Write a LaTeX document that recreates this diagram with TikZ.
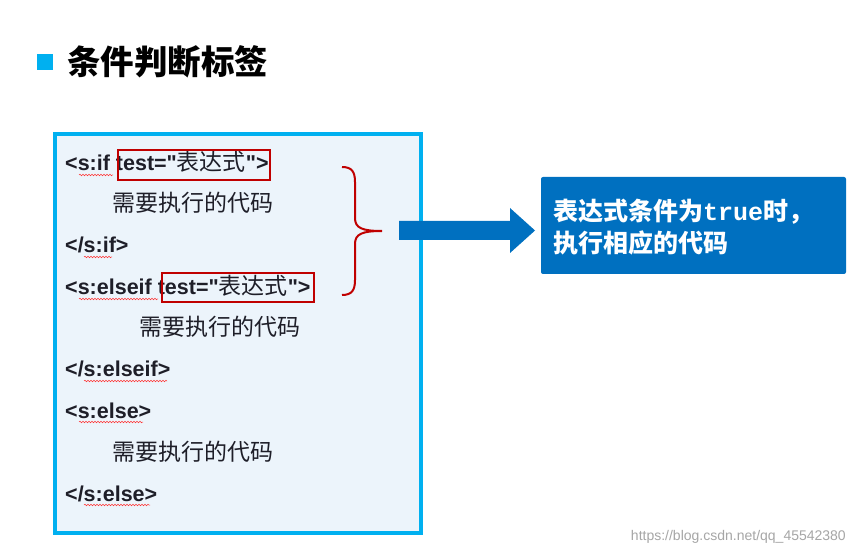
\documentclass[tikz,border=0pt]{standalone}
\usepackage{fontspec}
\setmainfont{Liberation Sans}[Ligatures=TeXOff]
\newfontfamily\cjk{Noto Sans CJK SC}
\newfontfamily\mono{Liberation Mono}
\usetikzlibrary{decorations.pathmorphing}
\definecolor{cyanb}{RGB}{0,176,240}
\definecolor{boxfill}{RGB}{236,244,251}
\definecolor{redb}{RGB}{192,0,0}
\definecolor{blueb}{RGB}{0,112,192}
\definecolor{txt}{RGB}{30,30,40}
\begin{document}
\begin{tikzpicture}[x=1pt,y=-1pt,
  code/.style={anchor=base west,inner sep=0pt,font=\fontsize{21.5}{23}\selectfont\bfseries,text=txt},
  cn/.style={anchor=base west,inner sep=0pt,font=\fontsize{23}{25}\cjk,text=txt},
  redbox/.style={draw=redb,line width=2pt},
  wav/.style={draw=red!80,line width=0.5pt,decorate,decoration={snake,amplitude=0.8pt,segment length=3pt}}]
\useasboundingbox (0,0) rectangle (857,553);
\fill[white] (0,0) rectangle (857,553);
% title
\node[fill=cyanb,minimum size=16pt,inner sep=0pt] (sq) at (45,62) {};
\node[anchor=west,inner sep=0pt,font=\fontsize{33.5}{35}\cjk\bfseries] (title) at (67,62) {条件判断标签};
% code box
\node[draw=cyanb,line width=4pt,fill=boxfill,minimum width=366pt,minimum height=399pt,inner sep=0pt] (box) at (238,333.5) {};
\node[code] (l1) at (65,171) {<s:if test="{\fontsize{23}{25}\cjk\mdseries 表达式}">};
\node[cn] (l2) at (112,212) {需要执行的代码};
\node[code] (l3) at (65,253) {</s:if>};
\node[code] (l4) at (65,295) {<s:elseif test="{\fontsize{23}{25}\cjk\mdseries 表达式}">};
\node[cn] (l5) at (139,336) {需要执行的代码};
\node[code] (l6) at (65,377) {</s:elseif>};
\node[code] (l7) at (65,418) {<s:else>};
\node[cn] (l8) at (112,460) {需要执行的代码};
\node[code] (l9) at (65,501) {</s:else>};
% red boxes
\node[redbox,minimum width=152pt,minimum height=30pt,inner sep=0pt] (r1) at (194,165) {};
\node[redbox,minimum width=152pt,minimum height=29pt,inner sep=0pt] (r2) at (238,287.5) {};
% wavy underlines
\draw[wav] (79,175) -- (113,175);
\draw[wav] (84,257) -- (112,257);
\draw[wav] (79,299) -- (158,299);
\draw[wav] (84,381) -- (167,381);
\draw[wav] (79,422) -- (143,422);
\draw[wav] (84,505) -- (150,505);
% brace
\coordinate (bt) at (342,167);
\coordinate (bb) at (342,295);
\coordinate (tip) at (382,231);
\draw[redb,line width=2pt] (bt) .. controls (352,167) and (355,172) .. (355,182)
  -- (355,218) .. controls (355,228) and (362,231) .. (tip)
  (tip) .. controls (362,231) and (355,234) .. (355,244)
  -- (355,280) .. controls (355,290) and (352,295) .. (bb);
% arrow
\fill[blueb] (399,221) -- (510,221) -- (510,208) -- (535,230.5) -- (510,253) -- (510,240) -- (399,240) -- cycle;
% blue box
\node[fill=blueb,rounded corners=2pt,minimum width=305pt,minimum height=97pt,inner sep=0pt] (res) at (693.5,225.5) {};
\node[anchor=west,inner sep=0pt,text=white,font=\fontsize{25}{27}\cjk\bfseries] (rt1) at (553,212) {表达式条件为{\mono\bfseries true}时，};
\node[anchor=west,inner sep=0pt,text=white,font=\fontsize{25}{27}\cjk\bfseries] (rt2) at (553,243) {执行相应的代码};
% watermark
\node[anchor=east,inner sep=0pt,text=black!35,font=\fontsize{14}{15}\selectfont] (wm) at (846,537) {https://blog.csdn.net/qq\_45542380};
\end{tikzpicture}
\end{document}
